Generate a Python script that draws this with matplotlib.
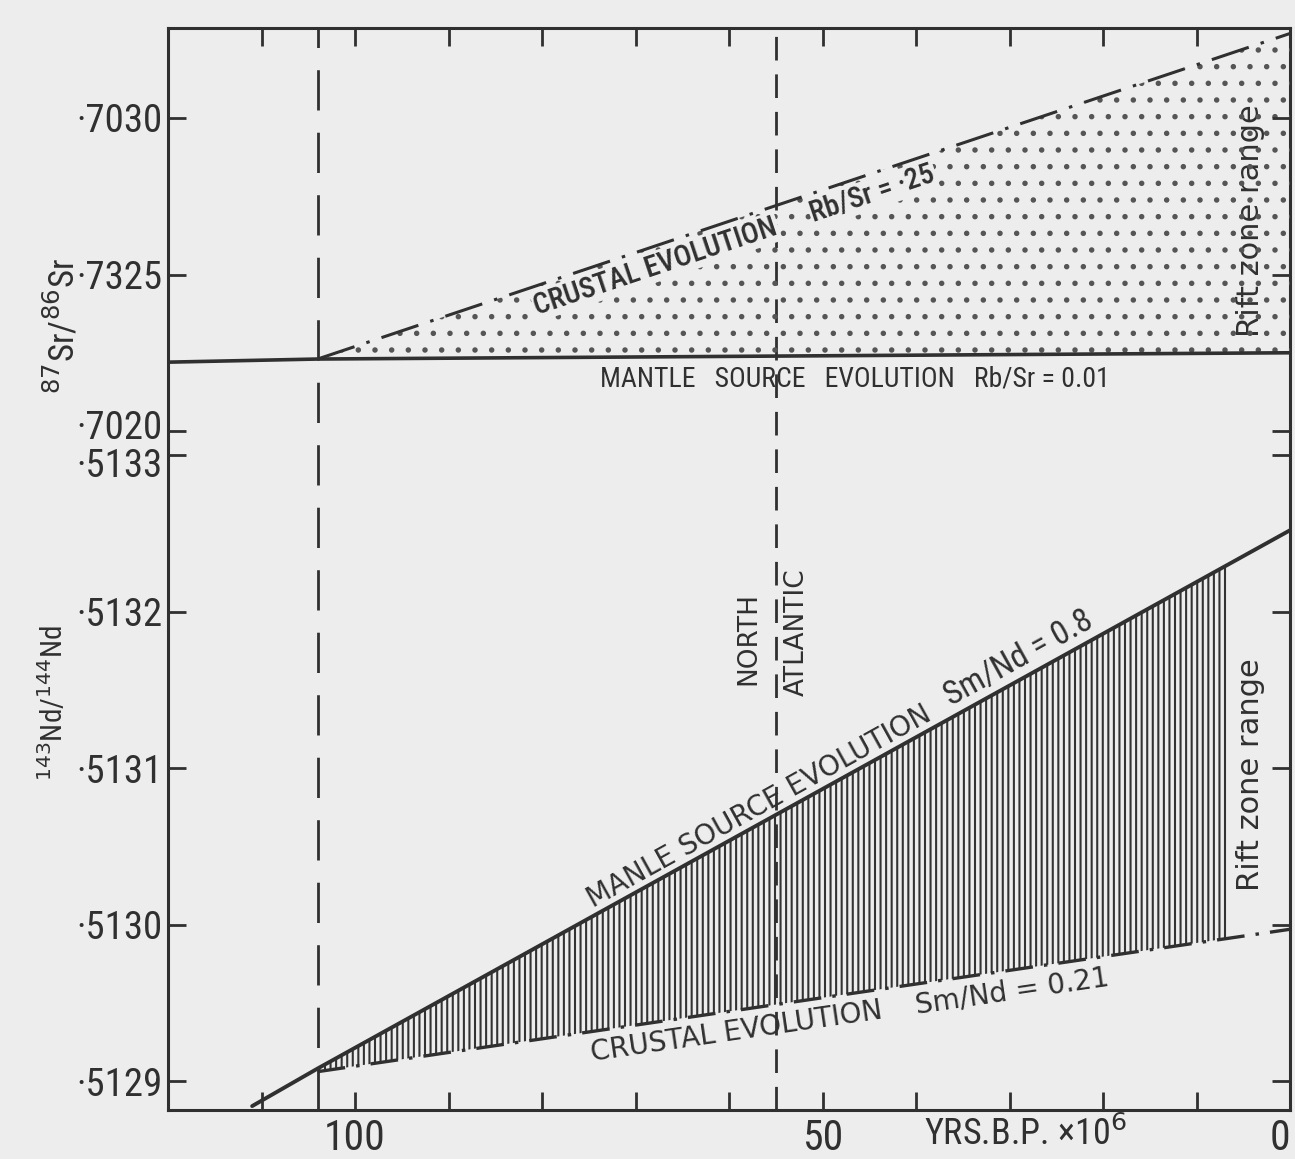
import numpy as np
import matplotlib
matplotlib.use("Agg")
import matplotlib.pyplot as plt
from matplotlib.patches import Rectangle
from matplotlib.transforms import ScaledTranslation

plt.rcParams["lines.scale_dashes"] = False
plt.rcParams["hatch.linewidth"] = 1.5

# ---- data (ages in Ma before present) ----
BRANCH_AGE = 104          # crustal lines split off the mantle lines here
NORTH_ATLANTIC_AGE = 55   # dashed "North Atlantic" marker
HATCH_END_AGE = 6.5       # hatched Nd field stops here

# 87Sr/86Sr panel
SR_MANTLE_AGES = [120, 104, 0]
SR_MANTLE = [0.70222, 0.70223, 0.70225]      # Rb/Sr = 0.01
SR_CRUST_AGES = [104, 0]
SR_CRUST = [0.70223, 0.70327]                # Rb/Sr = .25

# 143Nd/144Nd panel
ND_MANTLE_AGES = [111, 104, 0]
ND_MANTLE = [0.512884, 0.512908, 0.513252]   # Sm/Nd = 0.8
ND_CRUST_AGES = [104, 0]
ND_CRUST = [0.512906, 0.512997]              # Sm/Nd = 0.21

SR_TICKS = [0.7030, 0.7025, 0.7020]
SR_TICK_LABELS = ["·7030", "·7325", "·7020"]
ND_TICKS = [0.5133, 0.5132, 0.5131, 0.5130, 0.5129]
ND_TICK_LABELS = ["·5133", "·5132", "·5131", "·5130", "·5129"]
AGE_TICKS = [120, 110, 100, 90, 80, 70, 60, 50, 40, 30, 20, 10, 0]
AGE_TICK_LABELS = ["", "", "100", "", "", "", "", "50", "", "", "", "", "0"]

BG = "#ededed"
INK = "#303030"
NARROW = ["Roboto Condensed", "DejaVu Sans"]
PLAIN = ["DejaVu Sans"]

fig = plt.figure(figsize=(12.95, 11.59), dpi=100, facecolor=BG)
rect = [168 / 1295, 49 / 1159, 1122 / 1295, 1082 / 1159]
ax = fig.add_axes(rect, facecolor=BG)          # Nd axis (owns the frame)
ax_sr = fig.add_axes(rect, facecolor="none", sharex=ax)

ax.set_xlim(120, 0)
ax.set_ylim(0.5128815, 0.513573)
ax_sr.set_ylim(0.699831, 0.7032875)

for s in ax.spines.values():
    s.set_linewidth(2.2)
    s.set_color(INK)
for s in ax_sr.spines.values():
    s.set_visible(False)

# ticks
ax.set_xticks(AGE_TICKS)
ax.set_xticklabels(AGE_TICK_LABELS, fontsize=30, family=NARROW, color=INK)
ax.get_xticklabels()[-1].set_ha("right")
ax.set_yticks(ND_TICKS)
ax.set_yticklabels(ND_TICK_LABELS, fontsize=28, family=NARROW, color=INK)
ax.tick_params(axis="both", direction="in", length=13, width=2, color=INK,
               top=True, right=True, pad=4)
ax.tick_params(axis="x", pad=6)
ax_sr.set_yticks(SR_TICKS)
ax_sr.set_yticklabels(SR_TICK_LABELS, fontsize=28, family=NARROW, color=INK)
ax_sr.tick_params(axis="y", direction="in", length=13, width=2, color=INK,
                  right=True, pad=4)
ax_sr.tick_params(axis="x", bottom=False, labelbottom=False)

# pull the two crowded labels apart a little
lab = ax_sr.get_yticklabels()[2]
lab.set_transform(lab.get_transform() + ScaledTranslation(0, 5 / 72, fig.dpi_scale_trans))
lab = ax.get_yticklabels()[0]
lab.set_transform(lab.get_transform() + ScaledTranslation(0, -5 / 72, fig.dpi_scale_trans))

ax.set_xlabel("YRS.B.P. ×10$^{6}$", fontsize=26, family=NARROW, color=INK)
ax.xaxis.set_label_coords(0.764, -0.006)
ax.xaxis.label.set_va("top")

# ---- Sr panel ----
ax_sr.plot(SR_MANTLE_AGES, SR_MANTLE, color=INK, lw=2.6, solid_capstyle="butt")
ax_sr.fill_between(SR_CRUST_AGES, [SR_MANTLE[1], SR_MANTLE[2]], SR_CRUST,
                   facecolor="none", edgecolor="#555555", hatch=".", lw=0)
ax_sr.plot(SR_CRUST_AGES, SR_CRUST, color=INK, lw=2.2,
           linestyle=(0, (28, 9, 2.5, 9)))

# ---- Nd panel ----
hatch = ax.fill_between(ND_CRUST_AGES, [ND_MANTLE[1], ND_MANTLE[2]], ND_CRUST,
                        facecolor="none", edgecolor="#333333", hatch="|||", lw=0)
clip = Rectangle((HATCH_END_AGE, 0.5128), BRANCH_AGE - HATCH_END_AGE, 0.001,
                 transform=ax.transData)
hatch.set_clip_path(clip)
ax.plot(ND_MANTLE_AGES, ND_MANTLE, color=INK, lw=2.8, solid_capstyle="round")
ax.plot(ND_CRUST_AGES, ND_CRUST, color=INK, lw=2.4,
        linestyle=(0, (20, 8, 2.5, 8)))

# vertical markers
ax.axvline(BRANCH_AGE, color=INK, lw=2, linestyle=(0, (29, 16)))
ax.axvline(NORTH_ATLANTIC_AGE, color=INK, lw=2, linestyle=(0, (17, 10)))


def along(a, xs, ys, age, text, below, size, family, gap=2, weight="normal",
          mask=False):
    p0 = a.transData.transform((xs[0], ys[0]))
    p1 = a.transData.transform((xs[-1], ys[-1]))
    ang = np.degrees(np.arctan2(p1[1] - p0[1], p1[0] - p0[0]))
    y = np.interp(-age, [-x for x in xs], ys)
    t = np.radians(ang)
    sgn = -1 if below else 1
    off = (-np.sin(t) * gap * sgn, np.cos(t) * gap * sgn)
    box = None
    if mask:
        box = dict(boxstyle="square,pad=0.05", facecolor=BG, edgecolor="none")
    a.annotate(text, (age, y), xytext=off, textcoords="offset points",
               rotation=ang, rotation_mode="anchor", ha="center",
               va="top" if below else "bottom", fontsize=size,
               family=family, weight=weight, color=INK, bbox=box)


along(ax_sr, SR_CRUST_AGES, SR_CRUST, 68.5, "CRUSTAL EVOLUTION", True, 21, NARROW, 4,
      "medium", mask=True)
along(ax_sr, SR_CRUST_AGES, SR_CRUST, 45.3, "Rb/Sr = ·25", True, 21, NARROW, 4,
      "medium", mask=True)
ax_sr.annotate("MANTLE   SOURCE   EVOLUTION   Rb/Sr = 0.01", (73.8, SR_MANTLE[2]),
               xytext=(0, -9), textcoords="offset points", ha="left", va="top",
               fontsize=20, family=NARROW, color=INK)

along(ax, ND_MANTLE_AGES, ND_MANTLE, 56.0, "MANLE SOURCE EVOLUTION", False, 20, PLAIN, 1)
along(ax, ND_MANTLE_AGES, ND_MANTLE, 28.0, "Sm/Nd = 0.8", False, 24, NARROW, 2)
along(ax, ND_CRUST_AGES, ND_CRUST, 59.5, "CRUSTAL EVOLUTION", True, 20, PLAIN, 5)
along(ax, ND_CRUST_AGES, ND_CRUST, 30.0, "Sm/Nd = 0.21", True, 20, PLAIN, 5)

# rotated labels (axes fractions from the figure layout)
for yc in (0.822, 0.31):
    ax.text(0.965, yc, "Rift zone range", transform=ax.transAxes, rotation=90,
            ha="center", va="center", fontsize=22, family=PLAIN, color=INK,
            bbox=dict(boxstyle="square,pad=0.15", facecolor=BG, edgecolor="none"))
ax.text(0.517, 0.436, "NORTH", transform=ax.transAxes, rotation=90,
        ha="center", va="center", fontsize=19, family=PLAIN, color=INK)
ax.text(0.560, 0.442, "ATLANTIC", transform=ax.transAxes, rotation=90,
        ha="center", va="center", fontsize=19, family=PLAIN, color=INK)

fig.text(62 / 1295, 1 - 326 / 1159, "$^{87}$Sr/$^{86}$Sr", rotation=90,
         ha="center", va="center", fontsize=25, family=NARROW, color=INK)
fig.text(53 / 1295, 1 - 703 / 1159, "$^{143}$Nd/$^{144}$Nd", rotation=90,
         ha="center", va="center", fontsize=21, family=NARROW, color=INK)

fig.savefig("out.png", dpi=100, facecolor=BG)
